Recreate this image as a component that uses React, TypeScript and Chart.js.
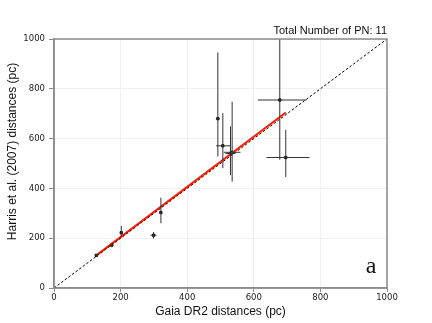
import React, { useEffect, useRef } from "react";
import { Chart, registerables } from "chart.js";

Chart.register(...registerables);

// Data
const gaiaDist = [127, 173, 202, 299, 321, 492, 507, 530, 535, 678, 696];
const harrisDist = [131, 172, 222, 212, 303, 680, 571, 540, 545, 755, 524];
const xErrLo = [4, 6, 3, 9, 3, 6, 20, 15, 25, 66, 58];
const xErrHi = [4, 6, 3, 9, 3, 6, 23, 15, 25, 80, 71];
const yErrLo = [6, 8, 18, 13, 43, 152, 90, 86, 118, 240, 78];
const yErrHi = [6, 8, 27, 13, 60, 266, 131, 109, 203, 300, 111];
const fitX = [127, 696];
const fitY = [131, 705];
const diagonal = [0, 1000];
const tickValues = [0, 200, 400, 600, 800, 1000];
const pnCount = 11;
const yTitle = "Harris et al. (2007) distances (pc)";

const errorBarPlugin = {
  id: "errorBars",
  afterDatasetsDraw(chart: any) {
    const { ctx, chartArea, scales } = chart;
    const xs = scales.x;
    const ys = scales.y;
    ctx.save();
    ctx.beginPath();
    ctx.rect(chartArea.left, chartArea.top, chartArea.right - chartArea.left, chartArea.bottom - chartArea.top);
    ctx.clip();
    ctx.strokeStyle = "#333";
    ctx.lineWidth = 1;
    for (let i = 0; i < gaiaDist.length; i++) {
      const px = xs.getPixelForValue(gaiaDist[i]);
      const py = ys.getPixelForValue(harrisDist[i]);
      ctx.beginPath();
      ctx.moveTo(xs.getPixelForValue(gaiaDist[i] - xErrLo[i]), py);
      ctx.lineTo(xs.getPixelForValue(gaiaDist[i] + xErrHi[i]), py);
      ctx.moveTo(px, ys.getPixelForValue(harrisDist[i] - yErrLo[i]));
      ctx.lineTo(px, ys.getPixelForValue(harrisDist[i] + yErrHi[i]));
      ctx.stroke();
    }
    ctx.restore();
  },
};

const framePlugin = {
  id: "frameAndText",
  afterDraw(chart: any) {
    const { ctx, chartArea } = chart;
    ctx.save();
    ctx.strokeStyle = "#8a8a8a";
    ctx.lineWidth = 1.5;
    ctx.strokeRect(chartArea.left, chartArea.top, chartArea.right - chartArea.left, chartArea.bottom - chartArea.top);
    ctx.fillStyle = "#111";
    ctx.font = "11px 'Liberation Sans', Arial, sans-serif";
    ctx.textAlign = "right";
    ctx.textBaseline = "alphabetic";
    ctx.fillText("Total Number of PN: " + pnCount, chartArea.right, chartArea.top - 5);
    ctx.font = "24px 'Liberation Serif', 'Times New Roman', serif";
    ctx.textAlign = "center";
    ctx.textBaseline = "middle";
    ctx.fillText("a", chartArea.right - 16, chartArea.bottom - 21);
    ctx.save();
    ctx.translate(13, (chartArea.top + chartArea.bottom) / 2 - 12);
    ctx.rotate(-Math.PI / 2);
    ctx.font = "12px 'Liberation Sans', Arial, sans-serif";
    ctx.textAlign = "center";
    ctx.textBaseline = "middle";
    ctx.fillText(yTitle, 0, 0);
    ctx.restore();
    ctx.restore();
  },
};

export default function App() {
  const ref = useRef<HTMLCanvasElement | null>(null);
  useEffect(() => {
    document.body.style.margin = "0";
    const canvas = ref.current;
    if (!canvas) return;
    const tickFont = { family: "'DejaVu Sans', sans-serif", size: 8.5 };
    const chart = new Chart(canvas, {
      type: "scatter",
      data: {
        datasets: [
          {
            type: "line",
            data: diagonal.map((v) => ({ x: v, y: v })),
            borderColor: "#000",
            borderWidth: 1,
            borderDash: [2.5, 2],
            pointRadius: 0,
            fill: false,
          },
          {
            type: "line",
            data: fitX.map((v, i) => ({ x: v, y: fitY[i] })),
            borderColor: "#ff1a00",
            borderWidth: 2,
            pointRadius: 0,
            fill: false,
          },
          {
            data: gaiaDist.map((v, i) => ({ x: v, y: harrisDist[i] })),
            backgroundColor: "#000",
            borderColor: "#000",
            pointRadius: 1.6,
            pointStyle: "rect",
          },
        ] as any,
      },
      options: {
        responsive: false,
        animation: false,
        layout: { padding: { left: 0, right: 45, top: 39, bottom: 0 } },
        plugins: { legend: { display: false }, tooltip: { enabled: false } },
        scales: {
          x: {
            type: "linear",
            min: 0,
            max: 1000,
            afterBuildTicks: (axis: any) => {
              axis.ticks = tickValues.map((v) => ({ value: v }));
            },
            afterFit: (axis: any) => {
              axis.height = 35;
            },
            ticks: { font: tickFont, color: "#222", padding: 1, maxRotation: 0, callback: (v: any) => String(v) },
            grid: { color: "#f1f1f1", tickColor: "#8a8a8a", tickLength: 4, lineWidth: 1 },
            border: { color: "#8a8a8a", width: 1.5 },
            title: {
              display: true,
              text: "Gaia DR2 distances (pc)",
              font: { family: "'Liberation Sans', Arial, sans-serif", size: 12 },
              color: "#111",
              padding: { top: 0, bottom: 4 },
            },
          },
          y: {
            type: "linear",
            min: 0,
            max: 1000,
            afterBuildTicks: (axis: any) => {
              axis.ticks = tickValues.map((v) => ({ value: v }));
            },
            afterFit: (axis: any) => {
              axis.width = 54;
            },
            ticks: { font: tickFont, color: "#222", padding: 4, callback: (v: any) => String(v) },
            grid: { color: "#f1f1f1", tickColor: "#8a8a8a", tickLength: 5, lineWidth: 1 },
            border: { color: "#8a8a8a", width: 1.5 },
            title: { display: false },
          },
        },
      } as any,
      plugins: [errorBarPlugin, framePlugin],
    });
    return () => chart.destroy();
  }, []);
  return (
    <div style={{ position: "absolute", left: 0, top: 0, width: 432, height: 323, background: "#fff" }}>
      <canvas ref={ref} width={432} height={323} style={{ width: 432, height: 323, display: "block" }} />
    </div>
  );
}
